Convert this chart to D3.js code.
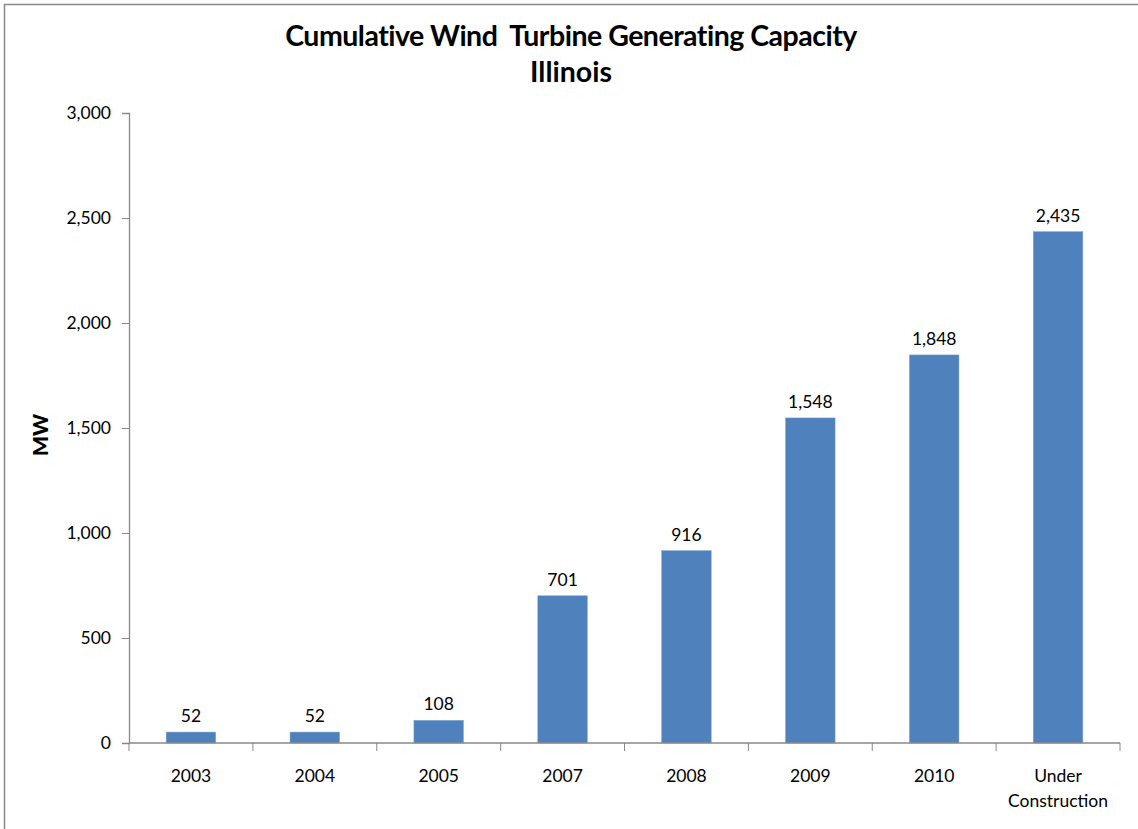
<!DOCTYPE html>
<html><head><meta charset="utf-8">
<script src="https://cdn.jsdelivr.net/npm/d3@7"></script>
<style>body{margin:0;background:#fff;} text{font-family:Lato,"Open Sans",sans-serif;}</style>
</head><body>
<svg id="c" width="1138" height="829"></svg>
<script>
const categories = ["2003","2004","2005","2007","2008","2009","2010","Under Construction"];
const values = [52,52,108,701,916,1548,1848,2435];
const yTicks = [0,500,1000,1500,2000,2500,3000];
const titleLines = ["Cumulative Wind  Turbine Generating Capacity","Illinois"];
const yLabel = "MW";

const svg = d3.select("#c");
svg.append("rect").attr("x",4.5).attr("y",4.5).attr("width",1140).attr("height",840)
  .attr("fill","none").attr("stroke","#888").attr("stroke-width",1.5);

const x0=129, x1=1120, y0=743, y1=113;
const x = d3.scaleBand().domain(categories).range([x0,x1]).paddingInner(0.6).paddingOuter(0.3);
const y = d3.scaleLinear().domain([0,3000]).range([y0,y1]);

// bars
svg.selectAll("rect.bar").data(values).enter().append("rect")
  .attr("x",(d,i)=>x(categories[i])).attr("width",x.bandwidth())
  .attr("y",d=>y(d)).attr("height",d=>y0-y(d))
  .attr("fill","#4F81BD").attr("stroke","#7fa3d0").attr("stroke-width",0.5);

// value labels
svg.selectAll("text.val").data(values).enter().append("text")
  .attr("x",(d,i)=>x(categories[i])+x.bandwidth()/2).attr("y",d=>y(d)-10)
  .attr("text-anchor","middle").attr("font-size",17.5).attr("fill","#000")
  .text(d=>d3.format(",")(d));

// y axis
const yAxis = svg.append("g").attr("transform",`translate(${x0},0)`)
  .call(d3.axisLeft(y).tickValues(yTicks).tickFormat(d3.format(",")).tickSizeOuter(0).tickSize(7).tickPadding(11));
yAxis.select(".domain").attr("stroke","#888").attr("stroke-width",1.3);
yAxis.selectAll(".tick line").attr("stroke","#888");
yAxis.selectAll(".tick text").attr("font-size",17.5).attr("fill","#000").attr("font-family","Lato,'Open Sans',sans-serif");

// x axis
const xg = svg.append("g").attr("transform",`translate(0,${y0})`);
xg.append("line").attr("x1",x0).attr("x2",x1).attr("stroke","#888").attr("stroke-width",1.3);
const xb = d3.scaleLinear().domain([0,categories.length]).range([x0,x1]);
xg.selectAll("line.t").data(d3.range(categories.length+1)).enter().append("line")
  .attr("x1",d=>xb(d)).attr("x2",d=>xb(d)).attr("y1",0).attr("y2",8).attr("stroke","#888");
xg.selectAll("text.c").data(categories).enter().append("text")
  .attr("text-anchor","middle").attr("font-size",17.5).attr("fill","#000")
  .each(function(d){
    const t=d3.select(this); const cx=x(d)+x.bandwidth()/2;
    const parts = d==="Under Construction" ? ["Under","Construction"] : [d];
    parts.forEach((p,k)=>t.append("tspan").attr("x",cx).attr("y",39+k*25).text(p));
  });

// title
svg.append("text").attr("x",571).attr("y",46).attr("text-anchor","middle")
  .attr("font-size",28.5).attr("font-weight","bold").attr("letter-spacing",-0.5).style("white-space","pre").text(titleLines[0]);
svg.append("text").attr("x",571).attr("y",82).attr("text-anchor","middle")
  .attr("font-size",28.5).attr("font-weight","bold").text(titleLines[1]);

// y label
svg.append("text").attr("transform","translate(48,435) rotate(-90)").attr("text-anchor","middle")
  .attr("font-size",21).attr("font-weight","900").text(yLabel);
</script>
</body></html>
